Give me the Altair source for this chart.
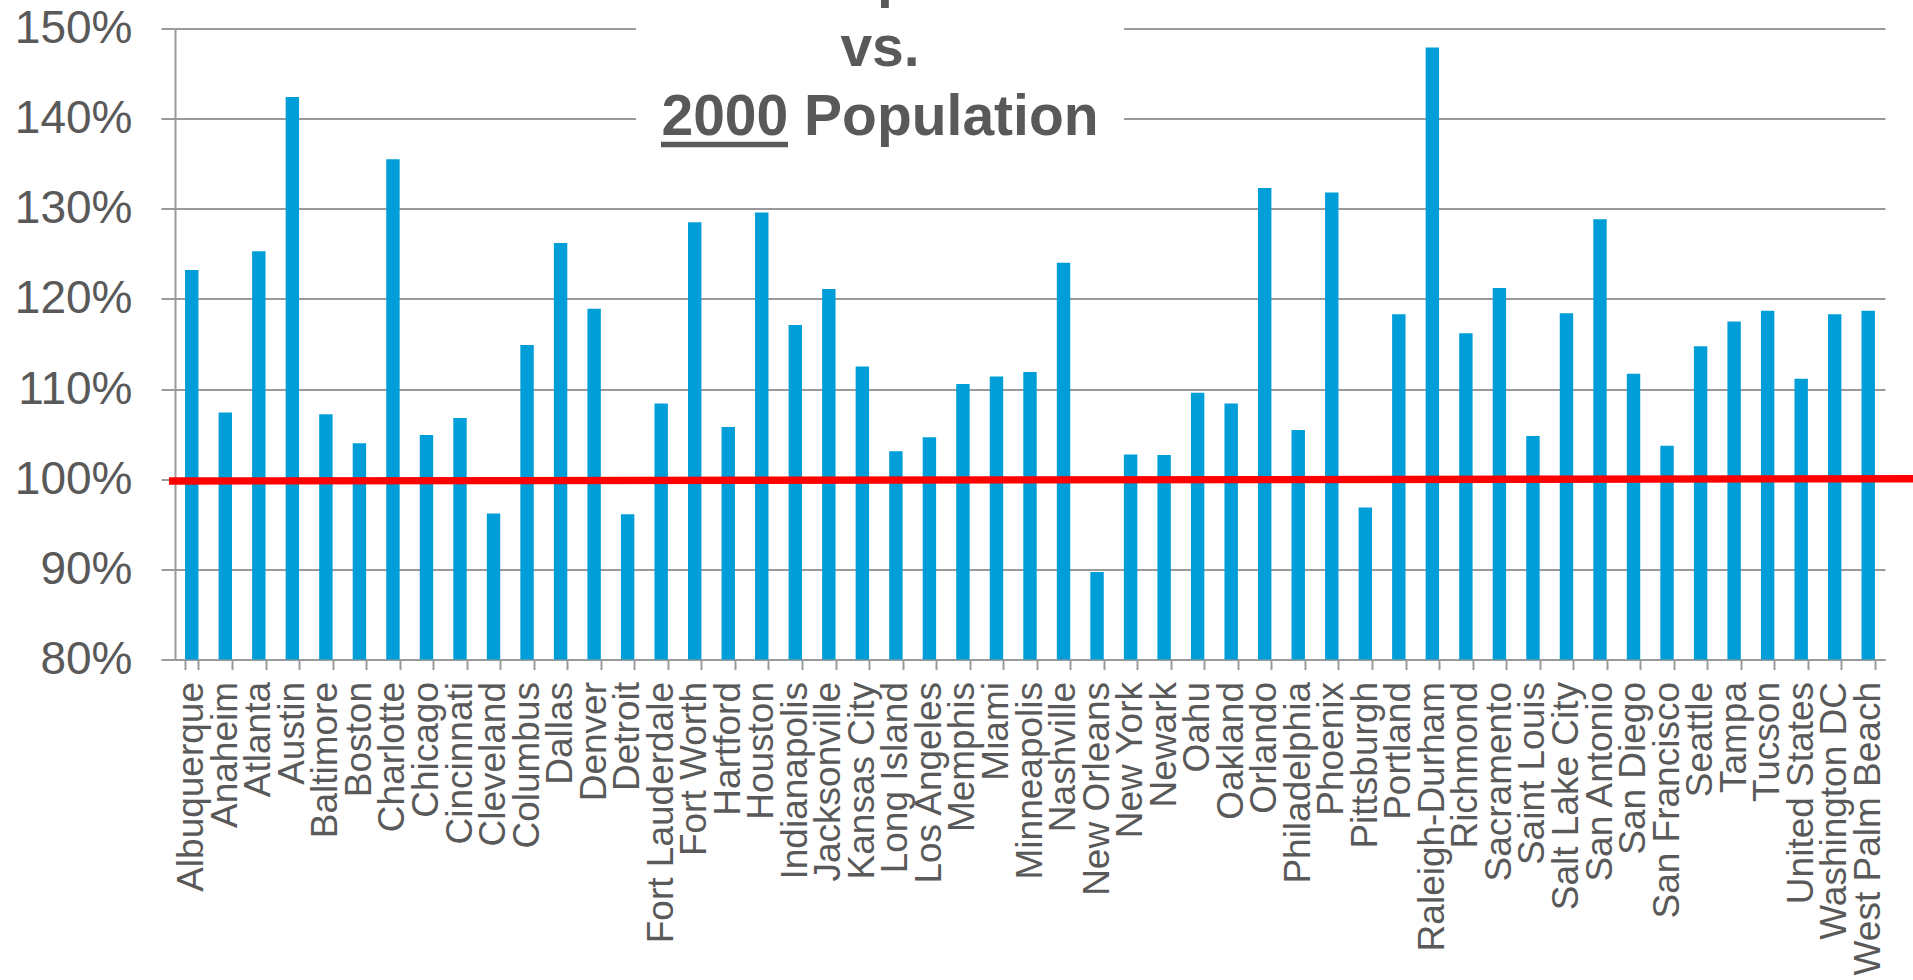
import altair as alt
import pandas as pd

# ---- data ----
CITIES = [
    "Albuquerque", "Anaheim", "Atlanta", "Austin", "Baltimore", "Boston",
    "Charlotte", "Chicago", "Cincinnati", "Cleveland", "Columbus", "Dallas",
    "Denver", "Detroit", "Fort Lauderdale", "Fort Worth", "Hartford", "Houston",
    "Indianapolis", "Jacksonville", "Kansas City", "Long Island", "Los Angeles",
    "Memphis", "Miami", "Minneapolis", "Nashville", "New Orleans", "New York",
    "Newark", "Oahu", "Oakland", "Orlando", "Philadelphia", "Phoenix",
    "Pittsburgh", "Portland", "Raleigh-Durham", "Richmond", "Sacramento",
    "Saint Louis", "Salt Lake City", "San Antonio", "San Diego",
    "San Francisco", "Seattle", "Tampa", "Tucson", "United States",
    "Washington DC", "West Palm Beach",
]
RATIO_PCT = [
    123.2, 107.4, 125.3, 142.4, 107.2, 104.0,
    135.5, 104.9, 106.8, 96.2, 114.9, 126.2,
    118.9, 96.1, 108.4, 128.5, 105.8, 129.6,
    117.1, 121.1, 112.5, 103.1, 104.65,
    110.55, 111.4, 111.9, 124.0, 89.7, 102.75,
    102.7, 109.6, 108.4, 132.3, 105.45, 131.8,
    96.85, 118.3, 147.9, 116.2, 121.2,
    104.8, 118.4, 128.85, 111.7,
    103.7, 114.75, 117.5, 118.7, 111.15,
    118.3, 118.7,
]
Y_MIN, Y_MAX = 80, 150
Y_TICKS = [80, 90, 100, 110, 120, 130, 140, 150]
REF_START, REF_END = 99.8, 100.05
TITLE_LINES = ["2010 Population", "vs.", "2000 Population"]

# ---- style ----
W, H = 1710, 631
FONT = "Liberation Sans"
TEXT_GRAY = "#595959"
LINE_GRAY = "#9a9a9a"
BAR_BLUE = "#009ED9"

df = pd.DataFrame({"city": CITIES, "ratio": RATIO_PCT})
ref_df = pd.DataFrame({"lo": [REF_START], "hi": [REF_END]})
one = pd.DataFrame({"k": [0]})

y_scale = alt.Scale(domain=[Y_MIN, Y_MAX], nice=False, zero=False)

x_enc = alt.X(
    "city:N",
    sort=CITIES,
    scale=alt.Scale(paddingInner=0.6, paddingOuter=0.3),
    axis=alt.Axis(
        title=None, labelAngle=270, labelFont=FONT, labelFontSize=37,
        labelColor=TEXT_GRAY, labelPadding=12, labelLimit=500,
        labelOverlap=False, tickBand="extent", tickSize=10,
        tickColor=LINE_GRAY, tickWidth=2, domainColor=LINE_GRAY,
        domainWidth=2, grid=False,
    ),
)
y_axis = alt.Axis(
    title=None, values=Y_TICKS, labelExpr="datum.value + '%'",
    labelFont=FONT, labelFontSize=46, labelColor=TEXT_GRAY, labelPadding=29,
    tickSize=14, tickColor=LINE_GRAY, tickWidth=2, domainColor=LINE_GRAY,
    domainWidth=2, grid=True, gridColor=LINE_GRAY, gridWidth=2,
)

bars = alt.Chart(df).mark_bar(color=BAR_BLUE).encode(
    x=x_enc,
    y=alt.Y("ratio:Q", scale=y_scale, axis=y_axis),
    y2=alt.datum(Y_MIN),
)

ref = alt.Chart(ref_df).mark_rule(color="#FF0000", strokeWidth=7.3).encode(
    x=alt.value(-6),
    x2=alt.value(W + 28),
    y=alt.Y("lo:Q", scale=y_scale, axis=y_axis),
    y2="hi:Q",
)

box = alt.Chart(one).mark_rect(color="white").encode(
    x=alt.value(461), x2=alt.value(949), y=alt.value(-29), y2=alt.value(136)
)

title = alt.Chart(one).mark_text(
    text=TITLE_LINES, font=FONT, fontSize=57, fontWeight="bold",
    color=TEXT_GRAY, align="center", baseline="alphabetic", lineHeight=69.3,
).encode(x=alt.value(705), y=alt.value(-32.1))

underline = alt.Chart(one).mark_rule(color=TEXT_GRAY, strokeWidth=5.6).encode(
    x=alt.value(486), x2=alt.value(613), y=alt.value(116)
)

chart = (
    alt.layer(bars, ref, box, title, underline)
    .properties(
        width=W, height=H, autosize="none",
        padding={"left": 175, "top": 28.5, "right": 28, "bottom": 320.5},
        background="white",
    )
    .configure_view(stroke=None)
)

chart.save("out.html", embed_options={"renderer": "svg", "actions": False})
